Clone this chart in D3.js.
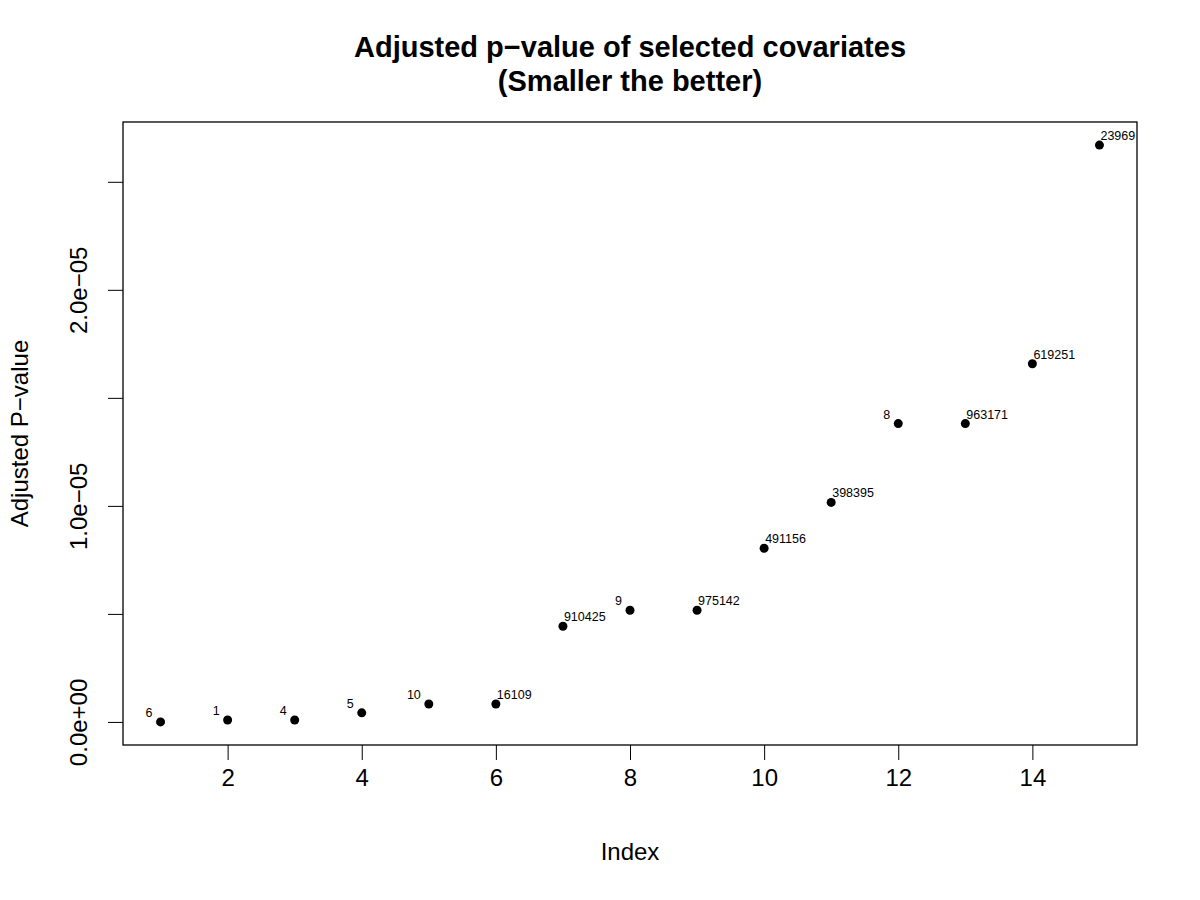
<!DOCTYPE html>
<html>
<head>
<meta charset="utf-8">
<script src="https://cdn.jsdelivr.net/npm/d3@7"></script>
<style>
  body { margin: 0; background: #fff; }
  text { font-family: "Liberation Sans", Arial, Helvetica, sans-serif; fill: #000; }
</style>
</head>
<body>
<div id="chart"></div>
<script>
// index of each selected covariate, sorted by adjusted p-value
var indexes = [1, 2, 3, 4, 5, 6, 7, 8, 9, 10, 11, 12, 13, 14, 15];
var pvalues = [0.0e-6, 0.09e-6, 0.09e-6, 0.42e-6, 0.83e-6, 0.83e-6, 4.43e-6, 5.17e-6,
               5.17e-6, 8.04e-6, 10.16e-6, 13.81e-6, 13.81e-6, 16.58e-6, 26.7e-6];
var labels = ["6", "1", "4", "5", "10", "16109", "910425", "9", "975142", "491156",
              "398395", "8", "963171", "619251", "23969"];
var xTicks = [2, 4, 6, 8, 10, 12, 14];
var yTicks = [0, 0.5e-5, 1.0e-5, 1.5e-5, 2.0e-5, 2.5e-5];
var yTickLabels = ["0.0e+00", "", "1.0e\u221205", "", "2.0e\u221205", ""];

var data = indexes.map(function(d, i) {
  return { idx: d, p: pvalues[i], label: labels[i] };
});

var svgWidth = 1200;
var svgHeight = 900;
var margin = { top: 122, right: 63, bottom: 155, left: 123 };
var width = svgWidth - margin.left - margin.right;
var height = svgHeight - margin.top - margin.bottom;

var svg = d3.select("#chart")
  .append("svg")
  .attr("width", svgWidth)
  .attr("height", svgHeight);

var chartGroup = svg.append("g")
  .attr("transform", `translate(${margin.left}, ${margin.top})`);

// R style 4% padding on both ends
var xExt = d3.extent(indexes), xPad = (xExt[1] - xExt[0]) * 0.04;
var yExt = d3.extent(pvalues), yPad = (yExt[1] - yExt[0]) * 0.04;

var xScale = d3.scaleLinear()
  .domain([xExt[0] - xPad, xExt[1] + xPad])
  .range([0, width]);

var yScale = d3.scaleLinear()
  .domain([yExt[0] - yPad, yExt[1] + yPad])
  .range([height, 0]);

var bottomAxis = d3.axisBottom(xScale)
  .tickValues(xTicks)
  .tickSize(15)
  .tickSizeOuter(0);

var leftAxis = d3.axisLeft(yScale)
  .tickValues(yTicks)
  .tickSize(15)
  .tickFormat(function(d, i) { return yTickLabels[i]; })
  .tickSizeOuter(0);

var xAxisG = chartGroup.append("g")
  .attr("transform", `translate(0, ${height})`)
  .call(bottomAxis);
xAxisG.select(".domain").remove();
xAxisG.selectAll("line").attr("stroke", "#000");
xAxisG.selectAll("text")
  .attr("font-size", "24px")
  .attr("font-family", "Liberation Sans, Arial, sans-serif")
  .attr("fill", "#000")
  .attr("y", 41)
  .attr("dy", 0);

var yAxisG = chartGroup.append("g")
  .call(leftAxis);
yAxisG.select(".domain").remove();
yAxisG.selectAll("line").attr("stroke", "#000");
yAxisG.selectAll("text")
  .attr("font-size", "24px")
  .attr("font-family", "Liberation Sans, Arial, sans-serif")
  .attr("fill", "#000")
  .attr("text-anchor", "middle")
  .attr("x", 0)
  .attr("y", 0)
  .attr("dy", 0)
  .attr("transform", "translate(-36, 0) rotate(-90)");

// plot box
chartGroup.append("rect")
  .attr("x", 0)
  .attr("y", 0)
  .attr("width", width)
  .attr("height", height)
  .attr("fill", "none")
  .attr("stroke", "#000")
  .attr("stroke-width", 1.3);

chartGroup.selectAll("circle")
  .data(data)
  .enter()
  .append("circle")
  .attr("cx", d => xScale(d.idx))
  .attr("cy", d => yScale(d.p))
  .attr("r", 4.5)
  .attr("fill", "#000");

// short labels sit up-left of the point, long ones up-right
chartGroup.selectAll(".ptlabel")
  .data(data)
  .enter()
  .append("text")
  .attr("class", "ptlabel")
  .attr("x", d => xScale(d.idx) + (d.label.length <= 2 ? -8 : 1))
  .attr("y", d => yScale(d.p) - 5)
  .attr("text-anchor", d => d.label.length <= 2 ? "end" : "start")
  .attr("font-size", "12.5px")
  .text(d => d.label);

// titles
svg.append("text")
  .attr("x", 630)
  .attr("y", 57)
  .attr("text-anchor", "middle")
  .attr("font-size", "29px")
  .attr("font-weight", "bold")
  .text("Adjusted p\u2212value of selected covariates");

svg.append("text")
  .attr("x", 630)
  .attr("y", 91)
  .attr("text-anchor", "middle")
  .attr("font-size", "29px")
  .attr("font-weight", "bold")
  .text("(Smaller the better)");

svg.append("text")
  .attr("x", 630)
  .attr("y", 860)
  .attr("text-anchor", "middle")
  .attr("font-size", "24px")
  .text("Index");

svg.append("text")
  .attr("transform", `translate(28, ${margin.top + height / 2}) rotate(-90)`)
  .attr("text-anchor", "middle")
  .attr("font-size", "24px")
  .text("Adjusted P\u2212value");
</script>
</body>
</html>
